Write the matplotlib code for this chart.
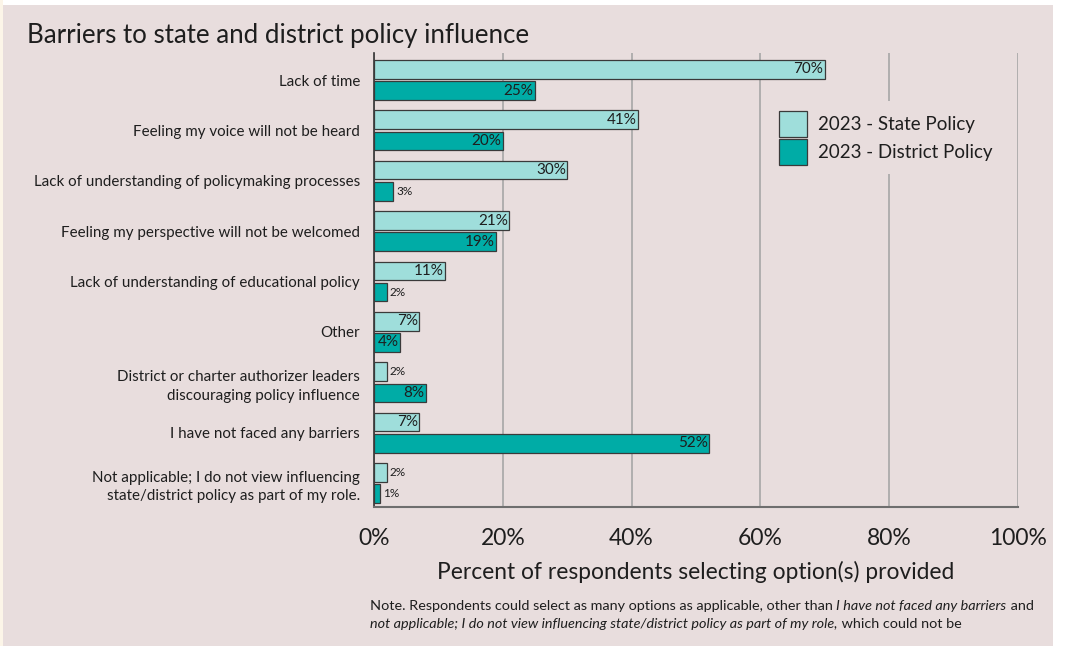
import matplotlib.pyplot as plt
from matplotlib.patches import Rectangle, Patch
import numpy as np

plt.rcParams['font.family'] = ['Lato', 'DejaVu Sans']

# survey results, percent of respondents
categories = [
    'Lack of time',
    'Feeling my voice will not be heard',
    'Lack of understanding of policymaking processes',
    'Feeling my perspective will not be welcomed',
    'Lack of understanding of educational policy',
    'Other',
    'District or charter authorizer leaders\ndiscouraging policy influence',
    'I have not faced any barriers',
    'Not applicable; I do not view influencing\nstate/district policy as part of my role.',
]
state_policy = [70, 41, 30, 21, 11, 7, 2, 7, 2]
district_policy = [25, 20, 3, 19, 2, 4, 8, 52, 1]
x_ticks = [0, 20, 40, 60, 80, 100]

bg = '#e8dddd'
light = '#9fdedb'
dark = '#00aca6'
edge = '#3a3a3a'
txt = '#1e1e1e'

W, H = 1077, 646
fig = plt.figure(figsize=(W / 100, H / 100), dpi=100)
fig.patch.set_facecolor('white')
fig.patches.append(Rectangle((0, 0), 3 / W, 1, transform=fig.transFigure,
                             facecolor='#fcf5e8', edgecolor='none', zorder=-10))
fig.patches.append(Rectangle((3 / W, 0), 1050 / W, (H - 5) / H, transform=fig.transFigure,
                             facecolor=bg, edgecolor='none', zorder=-10))

ax = fig.add_axes([374 / W, (H - 507) / H, 644 / W, 454 / H])
ax.set_facecolor('none')

y = np.arange(len(categories))
h = 0.37
off = 0.21
b1 = ax.barh(y - off, state_policy, height=h, color=light, edgecolor=edge, linewidth=0.9, zorder=3)
b2 = ax.barh(y + off, district_policy, height=h, color=dark, edgecolor=edge, linewidth=0.9, zorder=3)

# small values get their label outside the bar
for bars, vals in ((b1, state_policy), (b2, district_policy)):
    for bar, v in zip(bars, vals):
        yc = bar.get_y() + bar.get_height() / 2
        if v < 4:
            ax.annotate(f'{v}%', (v, yc), xytext=(2, 0), textcoords='offset points',
                        ha='left', va='center', fontsize=8.5, color=txt, zorder=4)
        else:
            ax.annotate(f'{v}%', (v, yc), xytext=(-1, 0), textcoords='offset points',
                        ha='right', va='center', fontsize=11, color=txt, zorder=4)

ax.set_xlim(0, 100)
ax.set_ylim(len(categories) - 1 + 0.476, -0.536)
ax.set_yticks(y)
ax.set_yticklabels(categories, fontsize=10.9, color=txt, linespacing=1.45)
ax.set_xticks(x_ticks)
ax.set_xticklabels([f'{t}%' for t in x_ticks], fontsize=16.5, color=txt)
ax.tick_params(axis='y', length=0, pad=10)
ax.tick_params(axis='x', length=0, pad=15)
ax.set_xlabel('Percent of respondents selecting option(s) provided', fontsize=16.4,
              color=txt, labelpad=9)

ax.xaxis.grid(True, color='#a6a6a6', linewidth=1.2, zorder=0)
ax.set_axisbelow(True)
for s in ('top', 'right'):
    ax.spines[s].set_visible(False)
ax.spines['left'].set_color('#333333')
ax.spines['left'].set_linewidth(1.2)
ax.spines['bottom'].set_color('#6e6e6e')
ax.spines['bottom'].set_linewidth(1.5)

handles = [Patch(facecolor=light, edgecolor=edge, linewidth=0.9, label='2023 - State Policy'),
           Patch(facecolor=dark, edgecolor=edge, linewidth=0.9, label='2023 - District Policy')]
leg = fig.legend(handles=handles, loc='upper left', bbox_to_anchor=(760 / W, (H - 92) / H),
                 fontsize=13.5, frameon=True, facecolor=bg, edgecolor='none', framealpha=1,
                 handlelength=1.5, handleheight=1.75, handletextpad=0.6, labelspacing=0.12,
                 borderpad=0.5, fancybox=False)
leg.set_zorder(5)
for t in leg.get_texts():
    t.set_color(txt)

fig.text(27 / W, (H - 43) / H, 'Barriers to state and district policy influence',
         fontsize=18.6, color=txt, va='baseline', ha='left')

# note under the chart, mixing upright and italic runs
note_lines = [
    [('Note. Respondents could select as many options as applicable, other than ', 'normal'),
     ('I have not faced any barriers', 'italic'), (' and', 'normal')],
    [('not applicable; I do not view influencing state/district policy as part of my role,', 'italic'),
     (' which could not be', 'normal')],
]
note_size = 10.4
for i, line in enumerate(note_lines):
    prev = None
    for piece, style in line:
        if prev is None:
            prev = fig.text(370 / W, (H - 612 - 18 * i) / H, piece, fontsize=note_size,
                            style=style, color=txt, va='bottom', ha='left')
        else:
            prev = ax.annotate(piece, xy=(1, 0), xycoords=prev, fontsize=note_size,
                               style=style, color=txt, va='bottom', ha='left',
                               annotation_clip=False)

fig.savefig('out.png', dpi=100, facecolor=fig.get_facecolor())
